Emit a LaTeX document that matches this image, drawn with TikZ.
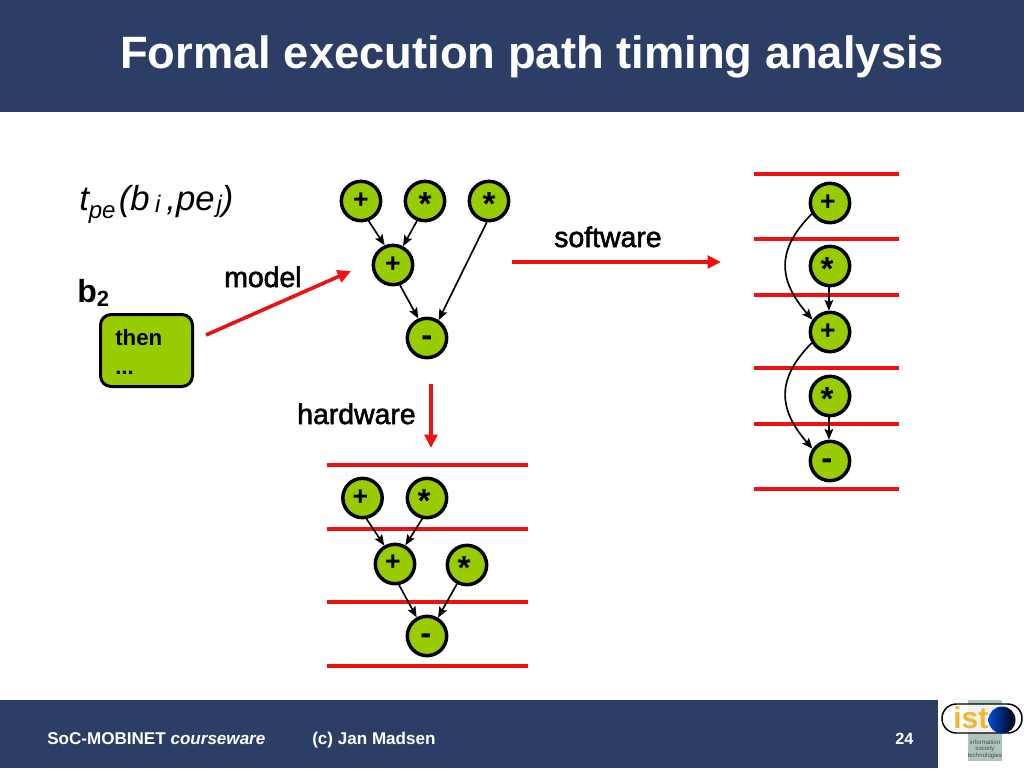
\documentclass[tikz,border=0pt]{standalone}
\usepackage{fontspec}
\setmainfont{Liberation Sans}
\newfontfamily\heavyish[FakeBold=2]{Liberation Sans}
\usetikzlibrary{arrows.meta,shadings}
\definecolor{navy}{HTML}{2C3E66}
\definecolor{leaf}{HTML}{99CC00}
\definecolor{redline}{HTML}{EE1111}
\definecolor{istbox}{HTML}{AEC4BC}
\definecolor{istorange}{HTML}{F2B632}
\newcommand{\fs}[1]{\fontsize{#1}{#1}\selectfont}
\newcommand{\subs}[2]{\raisebox{#1}{\fs{18}#2}}
\tikzset{
  x=0.75pt,y=-0.75pt,
  opnode/.style={circle,draw=black,fill=leaf,line width=2.6pt,minimum size=29.5pt,inner sep=0pt},
  plustext/.style={font=\fs{20}\bfseries,inner sep=0pt},
  startext/.style={font=\fs{25}\bfseries,inner sep=0pt},
  minustext/.style={font=\fs{25}\bfseries,inner sep=0pt},
  lane/.style={draw=redline,line width=2.4pt},
  flow/.style={draw=black,line width=1.25pt,-{Stealth[length=8pt,width=6.5pt,inset=1.5pt]}},
  bigarrow/.style={draw=redline,line width=2.7pt,-{Triangle[length=10pt,width=9.5pt]}},
  caption/.style={font=\heavyish\fs{21.3},inner sep=0pt,text=black},
  blocktext/.style={anchor=base west,inner sep=0pt,font=\fs{16.7}\bfseries},
  foot/.style={anchor=base west,inner sep=0pt,text=white,font=\fs{12.8}\bfseries},
}
% name, position, shift, kind, symbol
\newcommand{\op}[5]{%
  \node[opnode] (#1) at (#2) {};
  \node[#4,anchor=center] (#1t) at ([shift={(#3)}]#1.center) {#5};
}
\begin{document}
\begin{tikzpicture}
\useasboundingbox (0,0) rectangle (1024,768);
\fill[white] (0,0) rectangle (1024,768);
% bands
\fill[navy] (0,0) rectangle (1024,112);
\fill[navy] (0,700) rectangle (938,768);
\node[anchor=base west,inner sep=0pt,text=white,font=\fs{34}\bfseries] (title) at (120,68) {Formal execution path timing analysis};
\node[foot] (f1) at (47,744) {SoC-MOBINET \textit{courseware}};
\node[foot] (f2) at (312,744) {(c) Jan Madsen};
\node[foot,font=\fs{12.2}\bfseries] (f3) at (895,744) {24};
% formula
\node[anchor=base west,inner sep=0pt,font=\fs{26}\itshape] (formula) at (79,210) {t\subs{-6pt}{pe}\kern2.5pt(b\kern4pt\subs{-1.5pt}{i}\kern4.5pt,pe\kern1.5pt\subs{-1.5pt}{j})};
% b2 block
\node[anchor=base west,inner sep=0pt,font=\fs{24}\bfseries] (b2) at (77,302) {b\raisebox{-3.5pt}{\fs{16.5}2}};
\node[draw=black,fill=leaf,line width=2.25pt,rounded corners=8pt,minimum width=69pt,minimum height=54pt] (block) at (146.5,350.5) {};
\node[blocktext] (then) at (115,345) {then};
\node[blocktext] (dots) at (115,374) {...};
% arrows between stages
\coordinate (mstart) at (206,335);
\coordinate (mend) at (351,271);
\draw[bigarrow] (mstart) -- (mend);
\coordinate (sstart) at (512,262);
\coordinate (send) at (721,262);
\draw[bigarrow] (sstart) -- (send);
\coordinate (hstart) at (431,384);
\coordinate (hend) at (431,448);
\draw[bigarrow] (hstart) -- (hend);
\node[caption,anchor=base west] (model) at (224,287) {model};
\node[caption,anchor=base west] (software) at (554,247) {software};
\node[caption,anchor=base west] (hardware) at (297,424) {hardware};
% top graph
\op{a1}{361,201}{0,0}{plustext}{+}
\op{a2}{425,201}{0,3}{startext}{*}
\op{a3}{489,201}{0,3}{startext}{*}
\op{a4}{393,265}{0,0}{plustext}{+}
\op{a5}{427,338}{0,3}{minustext}{-}
\draw[flow] (a1.-69) -- (a4.113);
\draw[flow] (a2.-112) -- (a4.62);
\draw[flow] (a4.-71) -- (a5.114);
\draw[flow] (a3.-96) -- (a5.57);
% bottom lanes
\foreach \n/\y in {1/465,2/529,3/602,4/666} {
  \coordinate (bl\n) at (327,\y);
  \coordinate (br\n) at (528,\y);
  \draw[lane] (bl\n) -- (br\n);
}
\op{c1}{362.5,498}{-2,0}{plustext}{+}
\op{c2}{427,498}{-3,3}{startext}{*}
\op{c3}{395,564}{-2,-1}{plustext}{+}
\op{c4}{467,565}{-3,3}{startext}{*}
\op{c5}{427,636}{-1,3}{minustext}{-}
\draw[flow] (c1.-79) -- (c3.120);
\draw[flow] (c2.-103) -- (c3.61);
\draw[flow] (c3.-79) -- (c5.119);
\draw[flow] (c4.-118) -- (c5.59);
% right lanes
\foreach \n/\y in {1/174,2/239,3/295,4/368,5/424,6/489} {
  \coordinate (rl\n) at (754,\y);
  \coordinate (rr\n) at (899,\y);
  \draw[lane] (rl\n) -- (rr\n);
}
\op{d1}{830,203}{-2,0}{plustext}{+}
\op{d2}{830,266}{-3,3}{startext}{*}
\op{d3}{830,332}{-2,0}{plustext}{+}
\op{d4}{830,396}{-3,3}{startext}{*}
\op{d5}{830,461}{-3,3}{minustext}{-}
\draw[flow] (d1.-149) .. controls (776,250) and (778,280) .. (d3.145);
\draw[flow] (d2.-93) -- (d3.93);
\draw[flow] (d3.-149) .. controls (776,379) and (778,409) .. (d5.145);
\draw[flow] (d4.-93) -- (d5.93);
% ist logo
\fill[istbox] (968,700) rectangle (1002,761);
\draw[black,line width=1.1pt,fill=white,fill opacity=0.8,rounded corners=10.8pt] (942,704) rectangle (1022,733);
\node[anchor=base west,inner sep=0pt,text=istorange,font=\fs{22.5}\bfseries] (ist) at (953,728) {ist};
\shade[left color=blue!65!cyan!85!black,right color=black] (1002,720) circle[radius=13.5];
\foreach \l/\y in {information/744,society/750.5,technologies/757} {
  \node[anchor=base,inner sep=0pt,font=\fs{4.6},text=black!70] at (985,\y) {\l};
}
\end{tikzpicture}
\end{document}
